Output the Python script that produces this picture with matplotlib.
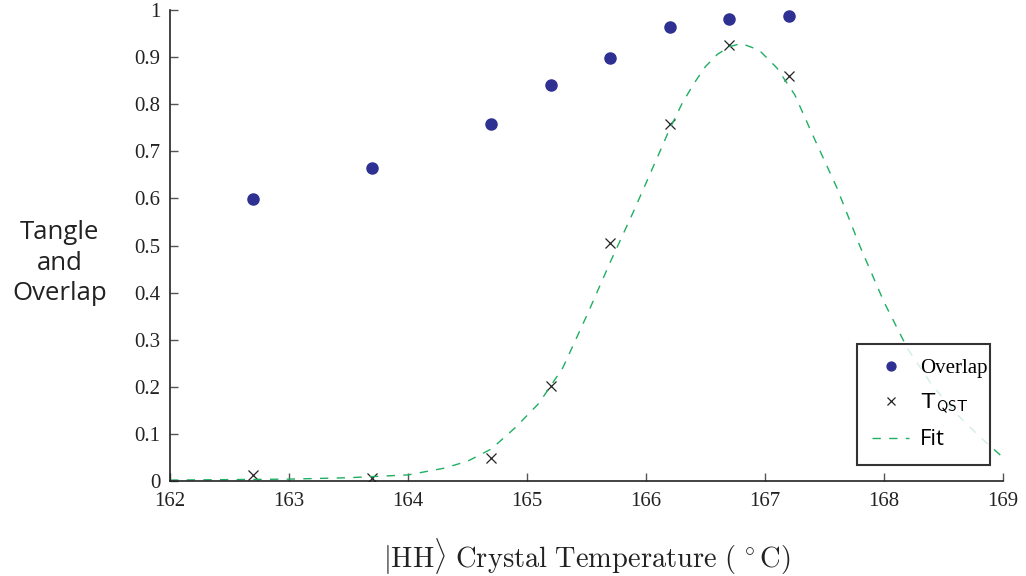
import matplotlib
matplotlib.use("Agg")
import matplotlib.pyplot as plt

# data
temp = [162.7, 163.7, 164.7, 165.2, 165.7, 166.2, 166.7, 167.2]
overlap = [0.599, 0.665, 0.759, 0.841, 0.899, 0.964, 0.982, 0.988]
tangle = [0.013, 0.006, 0.049, 0.202, 0.505, 0.758, 0.926, 0.859]

fit_x = [162.0, 162.5, 163.0, 163.5, 164.0, 164.3, 164.5, 164.7, 164.9, 165.1,
         165.3, 165.5, 165.7, 165.9, 166.1, 166.2, 166.3, 166.4, 166.5, 166.6,
         166.7, 166.8, 166.95, 167.1, 167.25, 167.4, 167.6, 167.8, 168.0, 168.2,
         168.4, 168.6, 168.8, 169.0]
fit_y = [0.002, 0.003, 0.004, 0.007, 0.013, 0.027, 0.042, 0.068, 0.113, 0.165,
         0.24, 0.35, 0.465, 0.575, 0.69, 0.748, 0.8, 0.843, 0.88, 0.906,
         0.922, 0.929, 0.915, 0.877, 0.82, 0.735, 0.625, 0.497, 0.38, 0.28,
         0.205, 0.145, 0.095, 0.05]

xticks = [162, 163, 164, 165, 166, 167, 168, 169]
yticks = [0, 0.1, 0.2, 0.3, 0.4, 0.5, 0.6, 0.7, 0.8, 0.9, 1]
ytick_labels = ["0", "0.1", "0.2", "0.3", "0.4", "0.5", "0.6", "0.7", "0.8", "0.9", "1"]

plt.rcParams["mathtext.fontset"] = "cm"

fig = plt.figure(figsize=(10.26, 5.76), dpi=100)
ax = fig.add_axes([0.1657, 0.1649, 0.8119, 0.8177])

ax.plot(temp, overlap, "o", color="#2e3192", markersize=8, label="Overlap")
ax.plot(temp, tangle, "x", color="#222222", markersize=7, markeredgewidth=0.9,
        label=r"$\mathsf{T}_{\mathsf{QST}}$")
ax.plot(fit_x, fit_y, color="#1fae62", lw=1.0, dashes=(6, 6), label="Fit")

ax.set_xlim(162, 169)
ax.set_ylim(0, 1)
ax.set_xticks(xticks)
ax.set_yticks(yticks)
ax.set_yticklabels(ytick_labels)
for s in ("top", "right"):
    ax.spines[s].set_visible(False)
for s in ("left", "bottom"):
    ax.spines[s].set_linewidth(1.2)
    ax.spines[s].set_color("#222222")
ax.tick_params(direction="in", length=6, width=1.0, color="#555555",
               labelsize=15, labelfontfamily="Liberation Serif", colors="#222222")
ax.tick_params(axis="x", pad=8)
ax.tick_params(axis="y", pad=7)

ax.set_xlabel(r"$|\mathrm{HH}\rangle\ \mathrm{Crystal\ Temperature\ (\,^\circ C)}$",
              fontsize=20.5, labelpad=18, color="#222222")
fig.text(0.058, 0.543, "Tangle\nand\nOverlap", ha="center", va="center",
         fontsize=18.5, family="Open Sans", linespacing=1.3, color="#222222")

leg = ax.legend(loc="lower left", bbox_to_anchor=(0.825, 0.034, 0.159, 0.255),
                mode="expand", fancybox=False, frameon=True, fontsize=15,
                markerscale=0.8, handlelength=1.8, handletextpad=0.5,
                borderpad=0.7, labelspacing=0.65, borderaxespad=0)
leg.get_frame().set_edgecolor("black")
leg.get_frame().set_linewidth(1.5)
texts = leg.get_texts()
texts[0].set_fontfamily("Liberation Serif")
texts[1].set_fontsize(16)
texts[2].set_fontfamily("Open Sans")
texts[2].set_fontsize(16)

fig.savefig("out.png", dpi=100)
